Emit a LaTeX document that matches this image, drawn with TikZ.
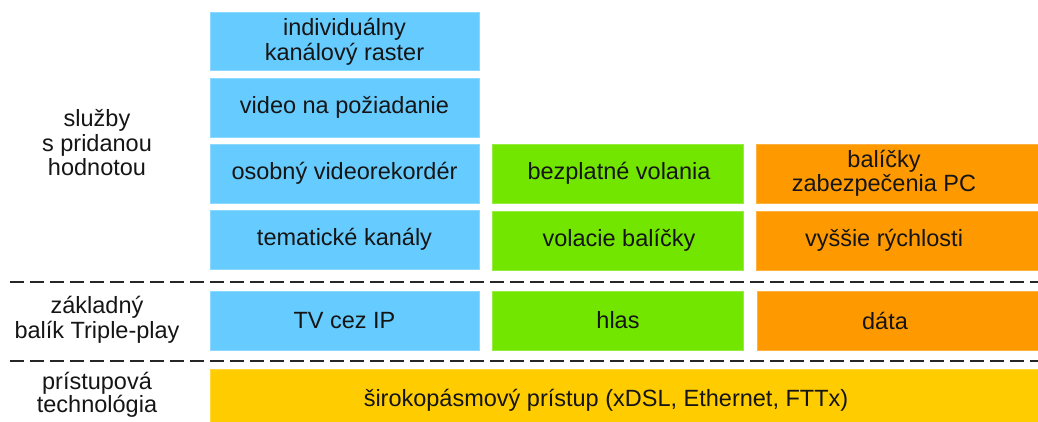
\documentclass[tikz,border=0pt]{standalone}
\usepackage{fontspec}
\setmainfont{Liberation Sans}
\definecolor{tvblue}{HTML}{66CCFF}
\definecolor{voicegreen}{HTML}{73E600}
\definecolor{dataorange}{HTML}{FF9900}
\definecolor{accessyellow}{HTML}{FFCC00}
\definecolor{txt}{HTML}{151515}
\begin{document}
\begin{tikzpicture}[x=1pt,y=-1pt,
  lbl/.style={font=\fontsize{23.5}{24.5}\selectfont, align=center, text=txt, inner sep=0pt},
  cellA/.style={fill=tvblue, draw=tvblue!75!white, line width=0.8pt},
  cellB/.style={fill=voicegreen, draw=voicegreen!75!white, line width=0.8pt},
  cellC/.style={fill=dataorange, draw=dataorange!75!white, line width=0.8pt},
  cellD/.style={fill=accessyellow, draw=accessyellow!75!white, line width=0.8pt},
  layersep/.style={dash pattern=on 14pt off 6pt, line width=2pt, draw=black!85}]
\useasboundingbox (0,0) rectangle (1038,421);
\clip (0,0) rectangle (1038,421);

% value-added services: TV column
\path[cellA] (210,12) rectangle (479,70);
\path[cellA] (210,78) rectangle (479,137);
\path[cellA] (210,144) rectangle (479,203);
\path[cellA] (210,210) rectangle (479,269);
% value-added services: voice column
\path[cellB] (492,144) rectangle (743,203);
\path[cellB] (492,211) rectangle (743,270);
% value-added services: data column
\path[cellC] (756,144) rectangle (1045,203);
\path[cellC] (756,211) rectangle (1045,270);
% basic triple-play
\path[cellA] (210,291) rectangle (479,350);
\path[cellB] (492,291) rectangle (743,350);
\path[cellC] (757,291) rectangle (1045,350);
% access layer
\path[cellD] (210,369) rectangle (1045,435);

% layer separators
\draw[layersep] (10,281.5) -- (1045,281.5);
\draw[layersep] (10,360.5) -- (1045,360.5);

% layer names
\node[lbl] (l-vas)    at (97,143)   {služby\\s pridanou\\hodnotou};
\node[lbl] (l-basic)  at (97,320)   {základný\\balík Triple-play};
\node[lbl, font=\fontsize{23.5}{23}\selectfont] (l-access) at (97,395) {prístupová\\technológia};

% cell texts
\node[lbl] (t-raster) at (344.5,42)  {individuálny\\kanálový raster};
\node[lbl] (t-vod)    at (344.5,107.5) {video na požiadanie};
\node[lbl] (t-pvr)    at (344.5,173.5) {osobný videorekordér};
\node[lbl] (t-theme)  at (344.5,239.5) {tematické kanály};
\node[lbl] (t-free)   at (619,173.5) {bezplatné volania};
\node[lbl] (t-callpk) at (619,240.5) {volacie balíčky};
\node[lbl] (t-secpc)  at (884,173.5) {balíčky\\zabezpečenia PC};
\node[lbl] (t-speed)  at (884,240.5) {vyššie rýchlosti};
\node[lbl] (t-iptv)   at (344.5,320.5) {TV cez IP};
\node[lbl] (t-voice)  at (618,320.5) {hlas};
\node[lbl] (t-data)   at (885,320.5) {dáta};
\node[lbl] (t-bb)     at (606,400)  {širokopásmový prístup (xDSL, Ethernet, FTTx)};
\end{tikzpicture}
\end{document}
